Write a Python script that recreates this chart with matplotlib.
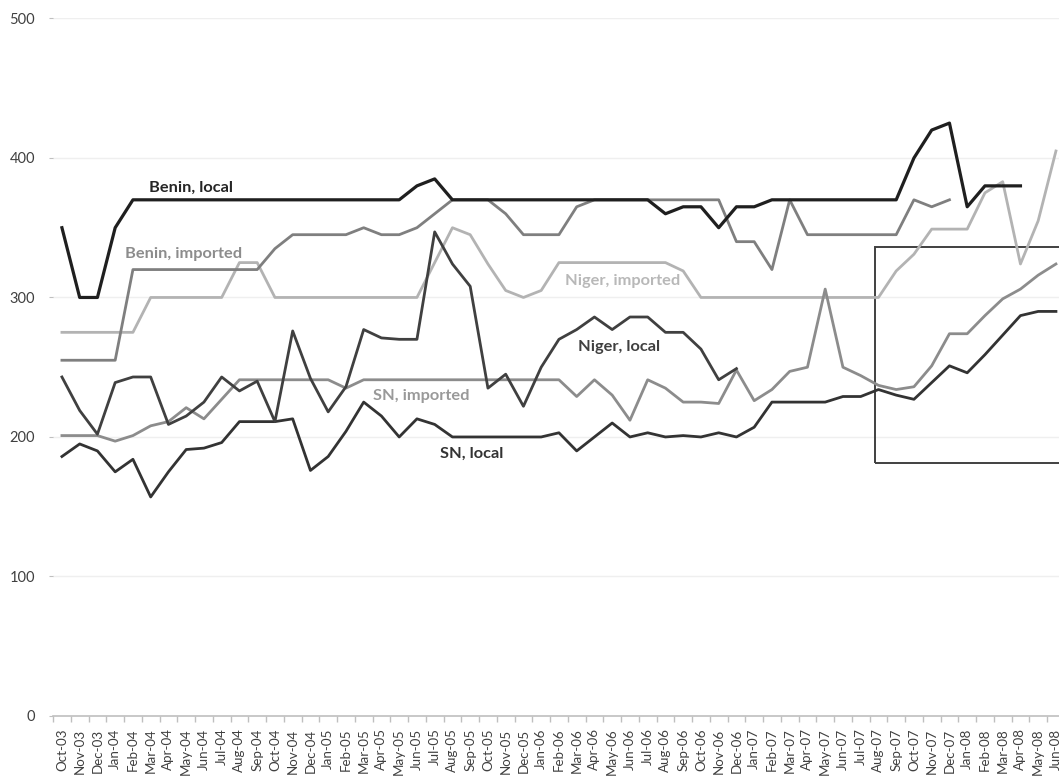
import numpy as np
import matplotlib.pyplot as plt
from matplotlib.patches import Rectangle

plt.rcParams['font.family'] = ['Lato', 'DejaVu Sans']

months = ['Oct-03', 'Nov-03', 'Dec-03', 'Jan-04', 'Feb-04', 'Mar-04', 'Apr-04', 'May-04', 'Jun-04',
          'Jul-04', 'Aug-04', 'Sep-04', 'Oct-04', 'Nov-04', 'Dec-04', 'Jan-05', 'Feb-05', 'Mar-05',
          'Apr-05', 'May-05', 'Jun-05', 'Jul-05', 'Aug-05', 'Sep-05', 'Oct-05', 'Nov-05', 'Dec-05',
          'Jan-06', 'Feb-06', 'Mar-06', 'Apr-06', 'May-06', 'Jun-06', 'Jul-06', 'Aug-06', 'Sep-06',
          'Oct-06', 'Nov-06', 'Dec-06', 'Jan-07', 'Feb-07', 'Mar-07', 'Apr-07', 'May-07', 'Jun-07',
          'Jul-07', 'Aug-07', 'Sep-07', 'Oct-07', 'Nov-07', 'Dec-07', 'Jan-08', 'Feb-08', 'Mar-08',
          'Apr-08', 'May-08', 'Jun-08']

nan = np.nan
benin_local = [350, 300, 300, 350] + [370] * 16 + [380, 385] + [370] * 12 + \
    [360, 365, 365, 350, 365, 365] + [370] * 8 + [400, 420, 425, 365, 380, 380, 380, nan, nan]
benin_imported = [255] * 4 + [320] * 8 + [335] + [345] * 4 + [350, 345, 345, 350, 360] + [370] * 3 + \
    [360, 345, 345, 345, 365] + [370] * 8 + [340, 340, 320, 370] + [345] * 6 + [370, 365, 370] + [nan] * 6
niger_imported = [275] * 5 + [300] * 5 + [325, 325] + [300] * 9 + [325, 350, 345, 324, 305, 300, 305] + \
    [325] * 7 + [319] + [300] * 11 + [319, 331, 349, 349, 349, 375, 383, 324, 355, 405]
niger_local = [243, 219, 202, 239, 243, 243, 209, 215, 225, 243, 233, 240, 211, 276, 242, 218, 236,
               277, 271, 270, 270, 347, 324, 308, 235, 245, 222, 250, 270, 277, 286, 277, 286, 286,
               275, 275, 263, 241, 249] + [nan] * 18
sn_imported = [201, 201, 201, 197, 201, 208, 211, 221, 213, 227, 241] + [241] * 5 + [235] + [241] * 12 + \
    [229, 241, 230, 212, 241, 235, 225, 225, 224, 248, 226, 234, 247, 250, 306, 250, 244, 237, 234,
     236, 251, 274, 274, 287, 299, 306, 316, 324]
sn_local = [186, 195, 190, 175, 184, 157, 175, 191, 192, 196, 211, 211, 211, 213, 176, 186, 204, 225,
            215, 200, 213, 209] + [200] * 6 + [203, 190, 200, 210, 200, 203, 200, 201, 200, 203, 200, 207] + \
    [225] * 4 + [229, 229, 234, 230, 227, 239, 251, 246, 259, 273, 287, 290, 290]

# highlighted window (Aug-07 onwards)
box_start = 45.8
box_low, box_high = 181.5, 336.5

x = np.arange(len(months))

fig = plt.figure(figsize=(10.59, 7.79), dpi=100)
ax = fig.add_axes([0.0501, 0.0809, 0.9554, 0.8954])

ax.plot(x, niger_imported, color='#b3b3b3', lw=2.0, solid_joinstyle='round')
ax.plot(x, benin_imported, color='#7f7f7f', lw=2.0, solid_joinstyle='round')
ax.plot(x, sn_imported, color='#8c8c8c', lw=2.0, solid_joinstyle='round')
ax.plot(x, sn_local, color='#333333', lw=2.0, solid_joinstyle='round')
ax.plot(x, niger_local, color='#404040', lw=2.0, solid_joinstyle='round')
ax.plot(x, benin_local, color='#1f1f1f', lw=2.3, solid_joinstyle='round')

ax.add_patch(Rectangle((box_start, box_low), 20, box_high - box_low, fill=False,
                       edgecolor='#404040', lw=1.4))

lab = dict(fontsize=11.8, fontweight='bold', ha='center', va='center')
ax.text(7.27, 378.5, 'Benin, local', color='#262626', **lab)
ax.text(6.85, 331, 'Benin, imported', color='#8c8c8c', **lab)
ax.text(31.6, 311.8, 'Niger, imported', color='#b8b8b8', **lab)
ax.text(31.4, 264.5, 'Niger, local', color='#404040', **lab)
ax.text(20.25, 229.4, 'SN, imported', color='#999999', **lab)
ax.text(23.07, 187.8, 'SN, local', color='#333333', **lab)

ax.set_xlim(-0.5, len(months) - 0.5)
ax.set_ylim(0, 500)
ax.set_xticks(x)
ax.set_xticklabels(months, rotation=90, fontsize=9.6, color='#404040')
ax.set_xticks(np.arange(-0.5, len(months)), minor=True)
ax.tick_params(axis='x', which='major', length=0, pad=9)
ax.tick_params(axis='x', which='minor', length=4, color='#bfbfbf', width=1)
ax.set_yticks(np.arange(0, 501, 100))
ax.tick_params(axis='y', labelsize=10.5, labelcolor='#404040', length=3, color='#bfbfbf', pad=10)
ax.grid(axis='y', color='#efefef', lw=1)
ax.set_axisbelow(True)
for s in ['top', 'right', 'left']:
    ax.spines[s].set_visible(False)
ax.spines['bottom'].set_color('#bfbfbf')
ax.spines['bottom'].set_linewidth(1.2)

plt.savefig('out.png', dpi=100)
